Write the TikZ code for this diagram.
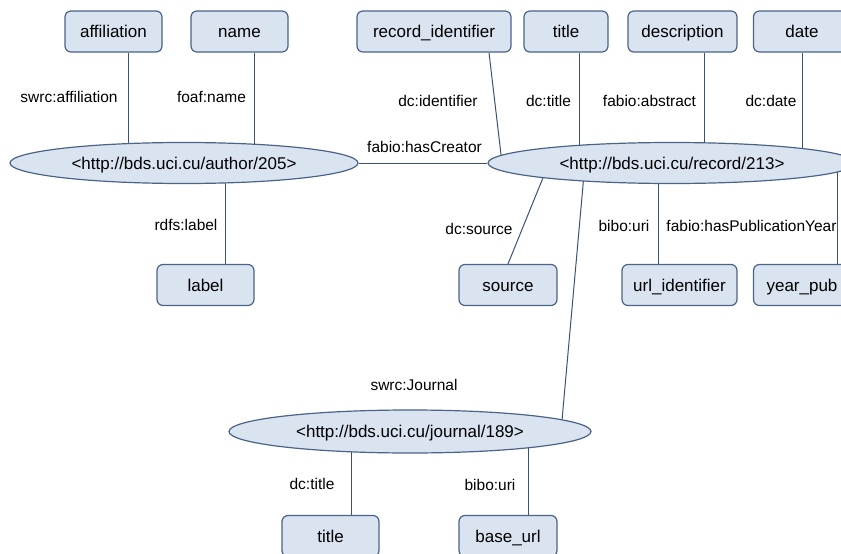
\documentclass[tikz,border=0pt]{standalone}
\usepackage{fontspec}
\setmainfont{Liberation Sans}
\usetikzlibrary{shapes.geometric,backgrounds}

\definecolor{boxfill}{HTML}{DAE3F0}
\definecolor{boxline}{HTML}{4A6388}
\definecolor{linkline}{HTML}{3A5276}

\begin{document}
\begin{tikzpicture}[x=1pt,y=-1pt,
		lit/.style={draw=boxline, line width=1.2pt, fill=boxfill, rounded corners=6pt, minimum height=41pt, inner sep=0pt, font=\fontsize{17}{20}\selectfont, text height=12pt, text depth=0pt},
		res/.style={ellipse, draw=boxline, line width=1.2pt, fill=boxfill, minimum height=41pt, inner sep=0pt, font=\fontsize{17}{20}\selectfont, text height=12pt, text depth=0pt},
		prop/.style={inner sep=0pt, font=\fontsize{15.5}{18}\selectfont, text height=11pt, text depth=0pt},
		link/.style={draw=linkline, line width=1pt}]
			\useasboundingbox (0,0) rectangle (841,554);
			
			% author
			{
				\node[res, minimum width=348pt] (author) at (184,163) {<http://bds.uci.cu/author/205>};
				\node[lit, minimum width=97pt] (affil) at (113.5,31.5) {affiliation};
				\node[lit, minimum width=97pt] (name) at (239.5,31.5) {name};
				\node[lit, minimum width=97pt] (label) at (205.5,285) {label};
				\node[prop] (paffil) at (69,97) {swrc:affiliation};
				\node[prop] (pname) at (211.5,97) {foaf:name};
				\node[prop] (plabel) at (186,225) {rdfs:label};
			}
			
			% record
			{
				\node[res, minimum width=368pt] (record) at (672,163) {<http://bds.uci.cu/record/213>};
				\node[lit, minimum width=154pt] (recid) at (434,31.5) {record\_identifier};
				\node[lit, minimum width=84pt] (rtitle) at (566,31.5) {title};
				\node[lit, minimum width=109pt] (descr) at (682.5,31.5) {description};
				\node[lit, minimum width=97pt] (date) at (802,31.5) {date};
				\node[lit, minimum width=98pt] (source) at (508,285) {source};
				\node[lit, minimum width=115pt] (urlid) at (679.5,285) {url\_identifier};
				\node[lit, minimum width=97pt] (yearpub) at (802,285) {year\_pub};
				\node[prop] (pcreator) at (424.5,147) {fabio:hasCreator};
				\node[prop] (precid) at (438,101) {dc:identifier};
				\node[prop] (prtitle) at (548.5,101) {dc:title};
				\node[prop] (pdescr) at (649.5,101) {fabio:abstract};
				\node[prop] (pdate) at (771,101) {dc:date};
				\node[prop] (psource) at (479,229) {dc:source};
				\node[prop] (purlid) at (624,226) {bibo:uri};
				\node[prop] (pyearpub) at (751.5,226) {fabio:hasPublicationYear};
			}
			
			% journal
			{
				\node[res, minimum width=362pt, minimum height=43pt] (journal) at (410,431.5) {<http://bds.uci.cu/journal/189>};
				\node[lit, minimum width=97pt] (jtitle) at (330.5,536) {title};
				\node[lit, minimum width=98pt] (baseurl) at (508,536) {base\_url};
				\node[prop] (pjournal) at (414,385) {swrc:Journal};
				\node[prop] (pjtitle) at (312,484) {dc:title};
				\node[prop] (pbaseurl) at (490,485) {bibo:uri};
			}
			
			% links run under the ellipses
			\begin{scope}[on background layer]
				\draw[link] ([xshift=14.5pt]affil.south) -- ([xshift=14.5pt]affil.south |- author.center);
				\draw[link] ([xshift=14.5pt]name.south) -- ([xshift=14.5pt]name.south |- author.center);
				\draw[link] ([xshift=19.5pt]label.north) -- ([xshift=19.5pt]label.north |- author.center);
				\draw[link] (author.east) -- (record.west);
				
				\draw[link] ([xshift=55pt]recid.south) -- ([xshift=-170pt]record.center);
				\draw[link] ([xshift=13pt]rtitle.south) -- ([xshift=13pt]rtitle.south |- record.center);
				\draw[link] ([xshift=21.5pt]descr.south) -- ([xshift=21.5pt]descr.south |- record.center);
				\draw[link] (date.south) -- (date.south |- record.center);
				\draw[link] (source.north) -- ([xshift=-123pt]record.center);
				\draw[link] ([xshift=-21.5pt]urlid.north) -- ([xshift=-21.5pt]urlid.north |- record.center);
				\draw[link] ([xshift=35pt]yearpub.north) -- ([xshift=35pt]yearpub.north |- record.center);
				\draw[link] ([xshift=-87pt]record.center) -- ([xshift=151pt]journal.center);
				
				\draw[link] ([xshift=20.5pt]jtitle.north) -- ([xshift=20.5pt]jtitle.north |- journal.center);
				\draw[link] ([xshift=20pt]baseurl.north) -- ([xshift=20pt]baseurl.north |- journal.center);
			\end{scope}
		\end{tikzpicture}
\end{document}
